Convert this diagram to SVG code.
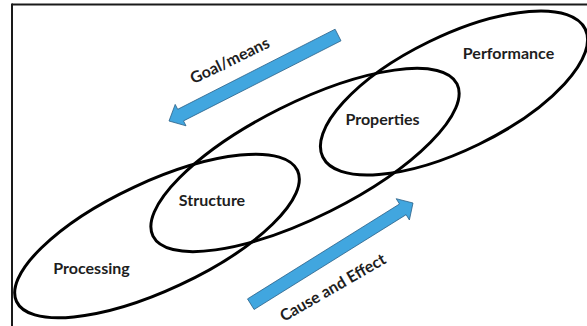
<svg xmlns="http://www.w3.org/2000/svg" width="587" height="326" viewBox="0 0 587 326">
  <defs>
    <style>
      .frame { stroke: #1a1a1a; stroke-width: 2; fill: none; }
      .oval { fill: none; stroke: #000; stroke-width: 3; }
      .label { font-family: Lato, "Open Sans", "Liberation Sans", sans-serif; font-weight: bold; font-size: 16px; fill: #1e1e1e; text-anchor: middle; }
      .arrow { fill: #41a6df; stroke: #2a5f86; stroke-width: 0.8; stroke-linejoin: miter; }
    </style>
  </defs>
  <rect x="0" y="0" width="587" height="326" fill="#fff"/>
  <g id="frame">
    <line class="frame" x1="12" y1="4.5" x2="587" y2="4.5"/>
    <line class="frame" x1="12" y1="3.5" x2="12" y2="326"/>
  </g>
  <g id="node-processing">
    <ellipse class="oval" cx="157" cy="236" rx="155" ry="54" transform="rotate(-25 157 236)"/>
    <text class="label" x="91.5" y="274">Processing</text>
  </g>
  <g id="node-structure-properties-band">
    <ellipse class="oval" cx="305" cy="160" rx="170" ry="57" transform="rotate(-26.6 305 160)"/>
  </g>
  <g id="node-structure">
    <text class="label" x="212" y="206">Structure</text>
  </g>
  <g id="node-properties">
    <text class="label" x="382.5" y="125">Properties</text>
  </g>
  <g id="node-performance">
    <ellipse class="oval" cx="454" cy="93" rx="146" ry="57" transform="rotate(-26 454 93)"/>
    <text class="label" x="508.5" y="59">Performance</text>
  </g>
  <g id="connectors">
    <g id="arrow-goal-means">
      <polygon class="arrow" points="335.1,29.2 177.7,109.3 175.2,104.4 169,121 186.0,125.8 183.5,120.9 341.0,40.8"/>
      <text class="label" transform="translate(230,61) rotate(-26)" x="0" y="5">Goal/means</text>
    </g>
    <g id="arrow-cause-effect">
      <polygon class="arrow" points="247.5,298.9 399.5,204.0 396.2,198.7 413,203 409.4,220.0 406.1,214.7 254.1,309.5"/>
      <text class="label" transform="translate(333,288) rotate(-30)" x="0" y="5">Cause and Effect</text>
    </g>
  </g>
</svg>
